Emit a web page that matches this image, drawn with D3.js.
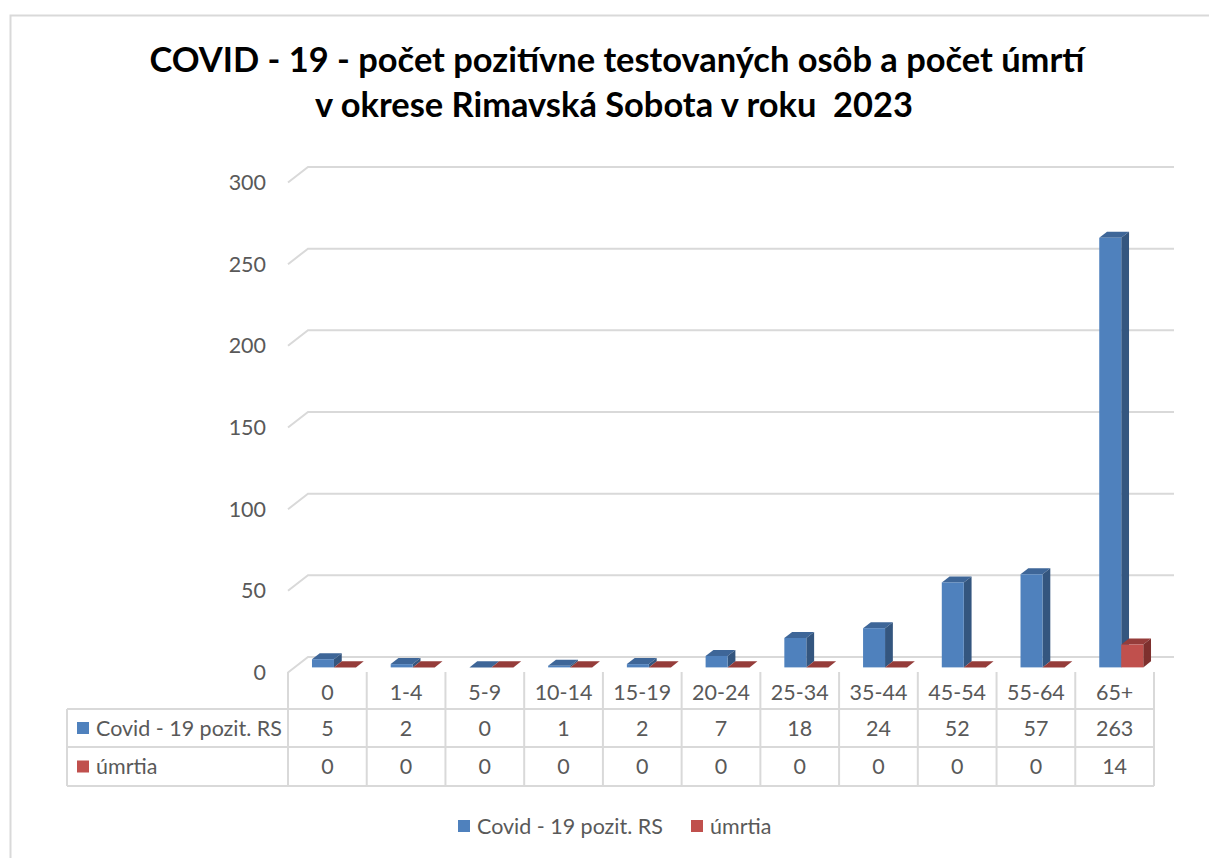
<!DOCTYPE html>
<html>
<head>
<meta charset="utf-8">
<script src="https://cdn.jsdelivr.net/npm/d3@7"></script>
<style>
  html, body { margin: 0; padding: 0; background: #fff; }
  svg { display: block; font-family: Lato, "Open Sans", sans-serif; }
</style>
</head>
<body>
<svg id="chart" width="1209" height="858"></svg>
<script>
// Age groups and the two series
const categories = ["0", "1-4", "5-9", "10-14", "15-19", "20-24", "25-34", "35-44", "45-54", "55-64", "65+"];
const covidPositive = [5, 2, 0, 1, 2, 7, 18, 24, 52, 57, 263];
const deaths = [0, 0, 0, 0, 0, 0, 0, 0, 0, 0, 14];
const seriesNames = ["Covid - 19 pozit. RS", "úmrtia"];
const yTicks = [0, 50, 100, 150, 200, 250, 300];
const titleLines = ["COVID - 19 - počet pozitívne testovaných osôb a počet úmrtí", "v okrese Rimavská Sobota v roku  2023"];

const series = [covidPositive, deaths];
const colors = [
  { front: "#4F81BD", top: "#3E6698", side: "#34567F" },
  { front: "#C0504D", top: "#953C3A", side: "#7E302E" }
];

const svg = d3.select("#chart");
const W = 1209, H = 858;

// chart frame
svg.append("path")
  .attr("d", `M10.5,${H} L10.5,15.5 L${W},15.5`)
  .attr("fill", "none").attr("stroke", "#D9D9D9").attr("stroke-width", 2);

// 3D geometry: front plane + depth vector to the back wall
const frontLeft = 288, frontRight = 1154;
const depth = { x: 20, y: -15.5 };
const barT0 = 0.33, barT1 = 0.72;   // bar front/back faces as fraction of depth

const x = d3.scaleBand().domain(categories).range([frontLeft, frontRight]).padding(0);
const inner = d3.scaleBand().domain(seriesNames).range([0, x.bandwidth()]).paddingInner(0).paddingOuter(0.79);
const y = d3.scaleLinear().domain([0, 300]).range([672.5, 182.5]);

const gridColor = "#D9D9D9";
const textColor = "#595959";

// fit a text element to a target width by adjusting its font size
function fitWidth(sel, target) {
  const node = sel.node();
  const fs = parseFloat(sel.attr("font-size"));
  const w = node.getComputedTextLength();
  const nfs = fs * target / w;
  sel.attr("font-size", nfs);
  return nfs;
}

// title
const titleG = svg.append("g");
const t1 = titleG.append("text").text(titleLines[0])
  .attr("x", 617).attr("y", 72).attr("text-anchor", "middle")
  .attr("font-weight", "bold").attr("font-size", 30).attr("fill", "#000");
const titleFs = fitWidth(t1, 935);
titleG.append("text").text(titleLines[1])
  .attr("x", 614).attr("y", 117).attr("text-anchor", "middle")
  .attr("font-weight", "bold").attr("font-size", titleFs).attr("fill", "#000")
  .style("white-space", "pre").attr("xml:space", "preserve");

// base font size for axis, table and legend text
const probe = svg.append("text").text(seriesNames[0]).attr("font-size", 19);
const fs = fitWidth(probe, 186);
probe.remove();

// gridlines: diagonal on side wall, horizontal on back wall
const grid = svg.append("g");
yTicks.forEach(v => {
  const yf = y(v);
  grid.append("path")
    .attr("d", `M${frontLeft},${yf} L${frontLeft + depth.x},${yf + depth.y} L${frontRight + depth.x},${yf + depth.y}`)
    .attr("fill", "none").attr("stroke", gridColor).attr("stroke-width", 2);
});

// y axis labels
svg.append("g").selectAll("text").data(yTicks).join("text")
  .attr("x", 266).attr("y", d => y(d)).attr("dy", "0.35em")
  .attr("text-anchor", "end").attr("font-size", fs).attr("fill", textColor)
  .text(d => d);

// 3D bars
const bars = svg.append("g");
categories.forEach((c, i) => {
  series.forEach((vals, s) => {
    const v = vals[i];
    const col = colors[s];
    const x0 = x(c) + inner(seriesNames[s]) + depth.x * barT0;
    const x1 = x0 + inner.bandwidth();
    const yb = y(0) + depth.y * barT0;
    const yt = y(v) + depth.y * barT0;
    const dx = depth.x * (barT1 - barT0), dy = depth.y * (barT1 - barT0);
    // top
    bars.append("path")
      .attr("d", `M${x0},${yt} L${x0 + dx},${yt + dy} L${x1 + dx},${yt + dy} L${x1},${yt} Z`)
      .attr("fill", col.top);
    if (v > 0) {
      // right side
      bars.append("path")
        .attr("d", `M${x1},${yt} L${x1 + dx},${yt + dy} L${x1 + dx},${yb + dy} L${x1},${yb} Z`)
        .attr("fill", col.side);
      // front
      bars.append("rect")
        .attr("x", x0).attr("y", yt).attr("width", x1 - x0).attr("height", yb - yt)
        .attr("fill", col.front);
    }
  });
});

// data table
const rowY = [672, 709, 747, 786];
const tableLeft = 67;
const table = svg.append("g").attr("stroke", gridColor).attr("stroke-width", 2).attr("fill", "none");
// horizontal rules
[709, 747, 786].forEach(yy => {
  table.append("line").attr("x1", tableLeft).attr("x2", frontRight).attr("y1", yy).attr("y2", yy);
});
// vertical rules
table.append("line").attr("x1", tableLeft).attr("x2", tableLeft).attr("y1", 709).attr("y2", 786);
categories.forEach(c => {
  table.append("line").attr("x1", x(c)).attr("x2", x(c)).attr("y1", 672).attr("y2", 786);
});
table.append("line").attr("x1", frontRight).attr("x2", frontRight).attr("y1", 672).attr("y2", 786);

const cellText = svg.append("g").attr("font-size", fs).attr("fill", textColor).attr("text-anchor", "middle");
categories.forEach((c, i) => {
  const cx = x(c) + x.bandwidth() / 2;
  cellText.append("text").attr("x", cx).attr("y", (rowY[0] + rowY[1]) / 2 + 2).attr("dy", "0.35em").text(c);
  series.forEach((vals, s) => {
    cellText.append("text").attr("x", cx).attr("y", (rowY[s + 1] + rowY[s + 2]) / 2).attr("dy", "0.35em").text(vals[i]);
  });
});

// table row keys
seriesNames.forEach((n, s) => {
  const cy = (rowY[s + 1] + rowY[s + 2]) / 2;
  svg.append("rect").attr("x", 77).attr("y", cy - 6).attr("width", 12).attr("height", 12).attr("fill", colors[s].front);
  svg.append("text").attr("x", 96).attr("y", cy).attr("dy", "0.35em")
    .attr("font-size", fs).attr("fill", textColor).text(n);
});

// legend
const legendX = [458, 691];
seriesNames.forEach((n, s) => {
  svg.append("rect").attr("x", legendX[s]).attr("y", 820).attr("width", 12).attr("height", 12).attr("fill", colors[s].front);
  svg.append("text").attr("x", legendX[s] + 19).attr("y", 826).attr("dy", "0.35em")
    .attr("font-size", fs).attr("fill", textColor).text(n);
});
</script>
</body>
</html>
